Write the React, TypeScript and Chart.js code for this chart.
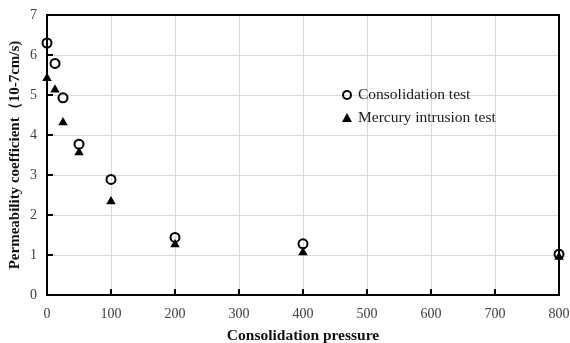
import React, { useEffect, useRef } from "react";
import { Chart, registerables } from "chart.js";

Chart.register(...registerables);

const pressures = [0, 12.5, 25, 50, 100, 200, 400, 800];
const consolidation = [6.3, 5.79, 4.93, 3.77, 2.89, 1.44, 1.28, 1.02];
const mercury = [5.42, 5.13, 4.31, 3.56, 2.34, 1.26, 1.06, 0.95];
const seriesNames = ["Consolidation test", "Mercury intrusion test"];
const xTitle = "Consolidation pressure";
const yTitle = "Permeability coefficient（10-7cm/s)";

const SERIF = "'Liberation Serif', 'Times New Roman', serif";

const framePlugin = {
  id: "frame",
  afterDatasetsDraw(chart: any) {
    const { ctx, chartArea } = chart;
    const { left, right, top, bottom } = chartArea;
    ctx.save();
    ctx.strokeStyle = "#000";
    ctx.lineWidth = 2;
    ctx.strokeRect(left, top, right - left, bottom - top);
    const xs = chart.scales.x;
    const ys = chart.scales.y;
    ctx.beginPath();
    xs.ticks.forEach((t: any) => {
      const px = Math.round(xs.getPixelForValue(t.value));
      ctx.moveTo(px, bottom);
      ctx.lineTo(px, bottom - 6);
    });
    ys.ticks.forEach((t: any) => {
      const py = Math.round(ys.getPixelForValue(t.value));
      ctx.moveTo(left, py);
      ctx.lineTo(left + 6, py);
    });
    ctx.stroke();
    ctx.restore();
  },
  afterDraw(chart: any) {
    const { ctx } = chart;
    ctx.save();
    const lx = 347;
    const items = [
      { y: 95, kind: "circle", label: seriesNames[0] },
      { y: 118, kind: "triangle", label: seriesNames[1] },
    ];
    items.forEach((it) => {
      ctx.beginPath();
      if (it.kind === "circle") {
        ctx.arc(lx, it.y, 4, 0, Math.PI * 2);
        ctx.lineWidth = 2;
        ctx.strokeStyle = "#000";
        ctx.stroke();
      } else {
        ctx.moveTo(lx, it.y - 5);
        ctx.lineTo(lx + 5, it.y + 4);
        ctx.lineTo(lx - 5, it.y + 4);
        ctx.closePath();
        ctx.fillStyle = "#000";
        ctx.fill();
      }
      ctx.fillStyle = "#1a1a1a";
      ctx.font = `15.5px ${SERIF}`;
      ctx.textBaseline = "middle";
      ctx.textAlign = "left";
      ctx.fillText(it.label, 358, it.y);
    });
    ctx.restore();
  },
};

export default function App() {
  const ref = useRef<HTMLCanvasElement>(null);
  useEffect(() => {
    document.body.style.margin = "0";
    const chart = new Chart(ref.current!, {
      type: "scatter",
      data: {
        datasets: [
          {
            label: seriesNames[0],
            data: pressures.map((x, i) => ({ x, y: consolidation[i] })),
            pointStyle: "circle",
            pointRadius: 4.5,
            borderColor: "#000",
            backgroundColor: "rgba(0,0,0,0)",
            borderWidth: 2,
            clip: false,
          },
          {
            label: seriesNames[1],
            data: pressures.map((x, i) => ({ x, y: mercury[i] })),
            pointStyle: "triangle",
            pointRadius: 5.5,
            borderColor: "#000",
            backgroundColor: "#000",
            borderWidth: 0,
            clip: false,
          },
        ],
      },
      options: {
        animation: false,
        responsive: false,
        layout: { padding: { top: 15, right: 11, left: 0, bottom: 0 } },
        plugins: { legend: { display: false }, tooltip: { enabled: false } },
        scales: {
          x: {
            type: "linear",
            min: 0,
            max: 800,
            ticks: {
              stepSize: 100,
              padding: 11,
              color: "#404040",
              font: { family: SERIF, size: 14 },
            },
            grid: { color: "#d9d9d9", lineWidth: 1, drawTicks: false },
            border: { display: false },
            title: {
              display: true,
              text: xTitle,
              color: "#111",
              font: { family: SERIF, size: 15.5, weight: "bold" },
              padding: { top: 0, bottom: -2 },
            },
            afterFit(s: any) {
              s.height = 48;
              s.paddingLeft = 0;
              s.paddingRight = 0;
            },
          },
          y: {
            min: 0,
            max: 7,
            ticks: {
              stepSize: 1,
              padding: 10,
              color: "#404040",
              font: { family: SERIF, size: 14 },
            },
            grid: { color: "#d9d9d9", lineWidth: 1, drawTicks: false },
            border: { display: false },
            title: {
              display: true,
              text: yTitle,
              color: "#111",
              font: { family: SERIF, size: 15, weight: "bold" },
              padding: { top: 6, bottom: 0 },
            },
            afterFit(s: any) {
              s.width = 47;
              s.paddingTop = 0;
              s.paddingBottom = 0;
            },
          },
        },
      },
      plugins: [framePlugin],
    } as any);
    return () => chart.destroy();
  }, []);
  return (
    <div style={{ width: 570, height: 343 }}>
      <canvas ref={ref} width={570} height={343} style={{ width: 570, height: 343 }} />
    </div>
  );
}
